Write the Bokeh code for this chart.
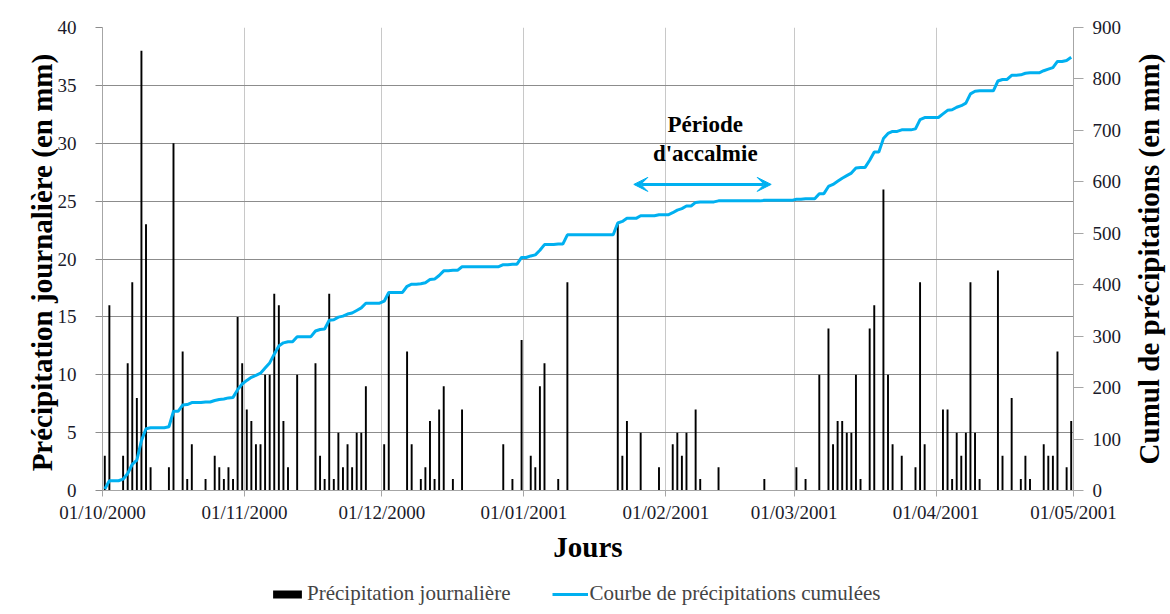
import math
import numpy as np
import pandas as pd
from bokeh.plotting import figure
from bokeh.layouts import column, row
from bokeh.models import (Range1d, LinearAxis, FixedTicker, Legend, LegendItem,
                          Arrow, VeeHead, Label)
from bokeh.embed import file_html
from bokeh.resources import INLINE

# ---------------- data ----------------
start_date = "2000-10-01"
end_date = "2001-05-01"
tick_labels = ["01/10/2000", "01/11/2000", "01/12/2000", "01/01/2001",
               "01/02/2001", "01/03/2001", "01/04/2001", "01/05/2001"]

# rainy days, as day number counted from 01/10/2000
rain_day = [0, 1, 4, 5, 6, 7, 8, 9, 10, 14, 15, 17, 18, 19, 22, 24, 25, 26, 27, 28, 29, 30,
            31, 32, 33, 34, 35, 36, 37, 38, 39, 40, 42, 46, 47, 48, 49, 50, 51, 52, 53, 54, 55, 56, 57,
            61, 62, 66, 67, 69, 70, 71, 72, 73, 74, 76, 78, 87, 89, 91,
            93, 94, 95, 96, 99, 101, 112, 113, 114, 117, 121,
            124, 125, 126, 127, 129, 130, 134, 144,
            151, 153, 156, 158, 159, 160, 161, 162, 163, 164, 165, 167, 168, 170, 171, 172, 174, 177, 178, 179,
            183, 184, 185, 186, 187, 188, 189, 190, 191, 195, 196, 198, 200, 201, 202, 205, 206, 207, 208, 210, 211]
# daily precipitation (mm)
rain_mm = [3, 16, 3, 11, 18, 8, 38, 23, 2, 2, 30, 12, 1, 4, 1, 3, 2, 1, 2, 1, 15, 11,
           7, 6, 4, 4, 10, 10, 17, 16, 6, 2, 10, 11, 3, 1, 17, 1, 5, 2, 4, 2, 5, 5, 9,
           4, 17, 12, 4, 1, 2, 6, 1, 7, 9, 1, 7, 4, 1, 13,
           3, 2, 9, 11, 1, 18, 23, 3, 6, 5, 2,
           4, 5, 3, 5, 7, 1, 2, 1,
           2, 1, 10, 14, 4, 6, 6, 5, 5, 10, 1, 14, 16, 26, 10, 4, 3, 2, 18, 4,
           7, 7, 1, 5, 3, 5, 18, 5, 1, 19, 3, 8, 1, 3, 1, 4, 3, 3, 12, 2, 6]

series_names = ["Précipitation journalière", "Courbe de précipitations cumulées"]
right_title = "Cumul de précipitations (en mm)"
calm_text = ["Période", "d'accalmie"]
calm_start, calm_end = "2001-01-25", "2001-02-24"

# ---------------- derived ----------------
t0 = pd.Timestamp(start_date)
n_days = (pd.Timestamp(end_date) - t0).days
daily = np.zeros(n_days)
daily[np.array(rain_day)] = rain_mm
cumul = np.cumsum(daily)
x_days = np.arange(n_days) + 0.5
x_bars = np.array(rain_day) + 0.5
tick_pos = [(pd.to_datetime(s, dayfirst=True) - t0).days for s in tick_labels]
calm_x0 = (pd.Timestamp(calm_start) - t0).days
calm_x1 = (pd.Timestamp(calm_end) - t0).days

BLUE = "#00B0F0"
SERIF = "Liberation Serif"
W = 1170
MAIN_H = 572
LEG_H = 614 - MAIN_H
RW = 46                      # width of the strip holding the right-hand title
TITLE_PX = "29px"
FRAME = dict(left=102, right=1075, top=27, bottom=490)

p = figure(width=W - RW, height=MAIN_H, x_range=Range1d(0, n_days), y_range=Range1d(0, 40),
           output_backend="svg", toolbar_location=None,
           min_border_left=FRAME["left"], min_border_right=W - RW - FRAME["right"],
           min_border_top=FRAME["top"], min_border_bottom=MAIN_H - FRAME["bottom"],
           x_axis_label="Jours", y_axis_label="Précipitation journalière  (en mm)")
p.extra_y_ranges = {"cum": Range1d(0, 900)}
p.outline_line_color = None
p.background_fill_color = "white"
p.border_fill_color = "white"

yl = p.yaxis[0]
yl.ticker = FixedTicker(ticks=list(range(0, 41, 5)))
yl.major_tick_out = 7
yl.major_tick_in = 0
yl.major_label_standoff = 19
yl.axis_label_standoff = -3

xb = p.xaxis[0]
xb.ticker = FixedTicker(ticks=tick_pos)
xb.major_label_overrides = {pos: lab for pos, lab in zip(tick_pos, tick_labels)}
xb.major_tick_out = 6
xb.major_tick_in = 0
xb.major_label_standoff = 5
xb.axis_label_standoff = 5

yr = LinearAxis(y_range_name="cum", ticker=FixedTicker(ticks=list(range(0, 901, 100))))
yr.major_tick_out = 10
yr.major_tick_in = 0
yr.major_label_standoff = 9
p.add_layout(yr, "right")

for ax in (yl, xb, yr):
    ax.axis_line_color = "#a6a6a6"
    ax.major_tick_line_color = "#a6a6a6"
    ax.minor_tick_line_color = None
    ax.major_label_text_font = SERIF
    ax.major_label_text_font_size = "19px"
    ax.major_label_text_color = "#1a1a2a"
    ax.axis_label_text_font = SERIF
    ax.axis_label_text_font_style = "bold"
    ax.axis_label_text_font_size = TITLE_PX
    ax.axis_label_text_color = "black"
yl.major_tick_line_color = "#8c8c8c"

p.ygrid.ticker = yl.ticker
p.ygrid.grid_line_color = "#8c8c8c"
p.xgrid.grid_line_color = "#c8c8c8"

bars = p.vbar(x=x_bars, top=rain_mm, bottom=0, width=0.42,
              fill_color="black", line_color=None)
line = p.line(x_days, cumul, y_range_name="cum", line_color=BLUE, line_width=3)

head = dict(size=14, fill_color=BLUE, line_color=BLUE, line_width=1)
p.add_layout(Arrow(start=VeeHead(**head), end=VeeHead(**head),
                   x_start=calm_x0, x_end=calm_x1, y_start=595, y_end=595,
                   y_range_name="cum", line_color=BLUE, line_width=3))
calm_mid = (calm_x0 + calm_x1) / 2
for txt, yv in zip(calm_text, [711, 656]):
    p.add_layout(Label(x=calm_mid + 0.6, y=yv, y_range_name="cum", text=txt,
                       text_align="center", text_baseline="middle",
                       text_font=SERIF, text_font_style="bold",
                       text_font_size="23px", text_color="black"))

# ---- narrow strip on the right: the right-hand axis title, read bottom-to-top ----
r = figure(width=RW, height=MAIN_H, output_backend="svg", toolbar_location=None,
           x_axis_location=None, y_axis_location=None,
           x_range=Range1d(0, RW), y_range=Range1d(0, 1),
           min_border_left=0, min_border_right=0,
           min_border_top=FRAME["top"], min_border_bottom=MAIN_H - FRAME["bottom"],
           outline_line_color=None)
r.grid.visible = False
r.add_layout(Label(x=W - RW - 1148 + RW if False else 1148 - (W - RW), y=0.5, text=right_title,
                   angle=math.pi / 2, text_align="center", text_baseline="middle",
                   text_font=SERIF, text_font_style="bold", text_font_size=TITLE_PX,
                   text_color="black"))

# ---- legend strip below the chart ----
q = figure(width=W, height=LEG_H, output_backend="svg", toolbar_location=None,
           x_axis_location=None, y_axis_location=None,
           min_border_left=FRAME["left"], min_border_right=0,
           min_border_top=0, min_border_bottom=0, outline_line_color=None)
q.grid.visible = False
lb = q.vbar(x=x_bars, top=rain_mm, width=0.42, fill_color="black", line_color=None,
            visible=False)
ll = q.line(x=x_days, y=cumul, line_color=BLUE, line_width=3, visible=False)
legend = Legend(items=[LegendItem(label=series_names[0], renderers=[lb]),
                       LegendItem(label=series_names[1], renderers=[ll])],
                orientation="horizontal", location=(167, 8),
                border_line_color=None, background_fill_alpha=0, inactive_fill_alpha=0,
                label_text_font=SERIF, label_text_font_size="21px",
                glyph_width=36, glyph_height=10, label_height=10,
                label_standoff=2, spacing=41, padding=0, margin=0)
q.add_layout(legend, "center")

layout = column(row(p, r, spacing=0), q, spacing=0)
open("out.html", "w").write(file_html(layout, INLINE))
